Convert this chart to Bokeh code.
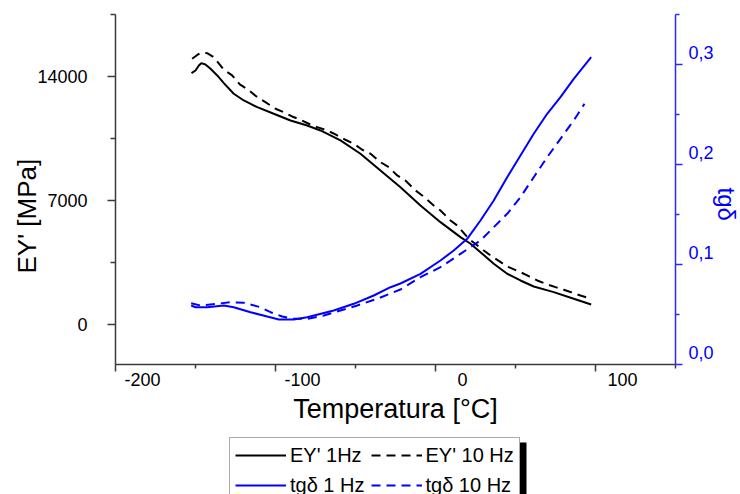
from bokeh.plotting import figure
from bokeh.layouts import column
from bokeh.models import (Range1d, LinearAxis, FixedTicker, Legend, LegendItem, Title,
                          BoxAnnotation, CustomLabelingPolicy)
from bokeh.core.properties import value
from bokeh.embed import file_html
from bokeh.resources import INLINE

# ---------------- data ----------------
temp_e1 = [-152.5, -150.0, -147.9, -146.4, -143.8, -140.6, -136.4, -132.3, -126.1,
           -119.8, -111.4, -101.1, -90.6, -80.2, -71.9, -59.4, -46.9, -34.4, -21.9,
           -9.4, 3.1, 15.6, 21.9, 28.1, 36.4, 44.8, 53.1, 61.4, 73.9, 86.4, 97.3]
e_1hz = [14188, 14340, 14623, 14753, 14680, 14437, 14059, 13624, 13025,
         12647, 12269, 11896, 11518, 11236, 10953, 10389, 9638, 8695, 7752,
         6719, 5776, 4929, 4556, 4082, 3427, 2863, 2484, 2145, 1824, 1451, 1129]

temp_e10 = [-152.1, -148.9, -146.9, -142.7, -138.6, -132.3, -127.1, -122.3, -117.7,
            -111.4, -106.3, -100.0, -94.8, -89.6, -84.4, -79.2, -73.9, -67.7, -62.5,
            -56.3, -51.1, -45.8, -40.6, -34.4, -29.2, -23.9, -18.8, -12.5, -8.3,
            -1.1, 3.1, 9.4, 13.6, 20.6, 30.2, 34.4, 41.7, 45.8, 53.1, 57.3, 63.6,
            68.8, 75.0, 80.2, 86.4, 90.6, 97.3]
e_10hz = [15001, 15216, 15329, 15318, 15092, 14381, 14059, 13551, 13297,
          12834, 12552, 12179, 11987, 11744, 11558, 11332, 11140, 10953, 10727,
          10428, 10202, 9864, 9638, 9164, 8881, 8413, 8130, 7566, 7283,
          6719, 6436, 5871, 5589, 4856, 4178, 3896, 3461, 3235, 2953, 2767, 2484,
          2298, 2106, 1959, 1767, 1637, 1451]

temp_t1 = [-152.7, -150.0, -142.7, -132.3, -126.1, -115.6, -105.2, -97.9, -88.6,
           -80.2, -63.6, -51.1, -38.6, -28.1, -21.9, -9.4, 3.1, 11.4, 19.8, 28.1,
           36.4, 44.8, 53.1, 61.4, 69.8, 78.1, 86.4, 97.3]
tg_1hz = [0.059, 0.0573, 0.0573, 0.059, 0.0573, 0.0523, 0.048, 0.045, 0.045,
          0.0473, 0.054, 0.0607, 0.069, 0.0773, 0.081, 0.0907, 0.104, 0.114, 0.1257,
          0.144, 0.164, 0.1873, 0.209, 0.2307, 0.2507, 0.2673, 0.2857, 0.3073]

temp_t10 = [-152.7, -146.9, -136.4, -128.1, -119.8, -109.4, -103.1, -95.8, -88.6,
            -80.2, -69.8, -59.4, -48.9, -36.4, -26.1, -21.9, -9.4, 3.1, 15.6, 28.1,
            36.4, 44.8, 53.1, 61.4, 69.8, 78.1, 86.4, 93.1]
tg_10hz = [0.0613, 0.059, 0.0607, 0.0623, 0.0617, 0.0573, 0.0523, 0.048, 0.0457,
           0.0457, 0.049, 0.054, 0.059, 0.0657, 0.0723, 0.075, 0.0873, 0.0973, 0.1107,
           0.124, 0.1373, 0.1507, 0.1673, 0.1873, 0.2073, 0.2257, 0.244, 0.2607]

x_ticks = [-200, -100, 0, 100]
x_tick_labels = ["-200", "-100", "0", "100"]
x_minor = [-150, -50, 50, 150]
e_ticks = [0, 7000, 14000]
e_minor = [3500, 10500, 17500]
tg_ticks = [0, 0.1, 0.2, 0.3]
tg_minor = [0.05, 0.15, 0.25, 0.35]
tg_tick_labels = ["0,0", "0,1", "0,2", "0,3"]
legend_labels = ["EY' 1Hz", "EY' 10 Hz", "tgδ 1 Hz", "tgδ 10 Hz"]
x_title = "Temperatura [°C]"
e_title = "EY' [MPa]"
tg_title = "tgδ"

# ---------------- style ----------------
FONT = "Liberation Sans"
AX = "#3a3a3a"
BLUE = "#0000ff"
BLUE_AX = "#2a2aff"
DASH = "9 6"

X0, X1 = -200, 150
E0, E1 = -2260, 17500
T0, T1 = 0.0, 0.35
LEFT, RIGHT, TOP = 115, 65, 14
W = 740
H_MAIN, H_LEG = 430, 64
FW, FH = W - LEFT - RIGHT, 350
BOTTOM = H_MAIN - TOP - FH

p = figure(width=W, height=H_MAIN, x_range=Range1d(X0, X1), y_range=Range1d(E0, E1),
           output_backend="svg", toolbar_location=None,
           min_border_left=LEFT, min_border_right=RIGHT,
           min_border_top=TOP, min_border_bottom=BOTTOM)
p.outline_line_color = None
p.xgrid.visible = False
p.ygrid.visible = False
p.background_fill_color = "white"
p.border_fill_color = "white"

lab_shift_px = 27
p.extra_x_ranges = {"xlab": Range1d(X0 - lab_shift_px * (X1 - X0) / FW,
                                    X1 - lab_shift_px * (X1 - X0) / FW)}
tg_shift_px = 12
p.extra_y_ranges = {"tg": Range1d(T0, T1),
                    "tglab": Range1d(T0 - tg_shift_px * (T1 - T0) / FH,
                                     T1 - tg_shift_px * (T1 - T0) / FH)}


def tick_style(ax, color, major_out, minor_out):
    ax.axis_line_color = color
    ax.axis_line_width = 1.5
    ax.major_tick_line_color = color
    ax.minor_tick_line_color = color
    ax.major_tick_line_width = 1.5
    ax.minor_tick_line_width = 1.5
    ax.major_tick_in = 0
    ax.major_tick_out = major_out
    ax.minor_tick_in = 0
    ax.minor_tick_out = minor_out


def labels_only(ax, color, standoff):
    ax.axis_line_color = None
    ax.major_tick_line_color = None
    ax.minor_tick_line_color = None
    ax.major_label_text_font = FONT
    ax.major_label_text_font_size = "18px"
    ax.major_label_text_color = color
    ax.major_label_standoff = standoff


def no_labels(ax):
    ax.major_label_text_font_size = "0px"
    ax.major_label_standoff = 0
    ax.major_label_policy = CustomLabelingPolicy(
        code="for (const i of indices) indices.unset(i)")


# bottom axis: ticks only
xa = p.xaxis[0]
xa.ticker = FixedTicker(ticks=x_ticks, minor_ticks=x_minor)
tick_style(xa, AX, 7, 4)
no_labels(xa)

# bottom axis: labels only (offset to the right like the original)
xl = LinearAxis(x_range_name="xlab", ticker=FixedTicker(ticks=x_ticks, minor_ticks=[]))
labels_only(xl, "black", -5)
xl.major_label_overrides = dict(zip(x_ticks, x_tick_labels))
p.add_layout(xl, "below")

# left axis
ya = p.yaxis[0]
ya.ticker = FixedTicker(ticks=e_ticks, minor_ticks=e_minor)
tick_style(ya, AX, 8, 5)
ya.major_label_text_font = FONT
ya.major_label_text_font_size = "18px"
ya.major_label_text_color = "black"
ya.major_label_standoff = 20

# right axis: ticks only
ra = LinearAxis(y_range_name="tg", ticker=FixedTicker(ticks=tg_ticks, minor_ticks=tg_minor))
tick_style(ra, BLUE_AX, 7, 4)
no_labels(ra)
p.add_layout(ra, "right")

# right axis: labels only (shifted up like the original)
rl = LinearAxis(y_range_name="tglab", ticker=FixedTicker(ticks=tg_ticks, minor_ticks=[]))
labels_only(rl, BLUE, 0)
rl.major_label_overrides = dict(zip(tg_ticks, tg_tick_labels))
p.add_layout(rl, "right")

# curves
r1 = p.line(temp_e1, e_1hz, line_color="black", line_width=2)
r2 = p.line(temp_e10, e_10hz, line_color="black", line_width=2, line_dash=DASH)
r3 = p.line(temp_t1, tg_1hz, line_color=BLUE, line_width=2, y_range_name="tg")
r4 = p.line(temp_t10, tg_10hz, line_color=BLUE, line_width=2, line_dash=DASH,
            y_range_name="tg")

# axis titles (side-panel titles)
p.add_layout(Title(text=e_title, align="left", offset=91, standoff=-14,
                   text_font=FONT, text_font_size="26px", text_font_style="normal",
                   text_color="black"), "left")
p.add_layout(Title(text=tg_title, align="left", offset=173, standoff=-8,
                   text_font=FONT, text_font_size="24px", text_font_style="normal",
                   text_color=BLUE), "right")
p.add_layout(Title(text=x_title, align="center", standoff=6,
                   text_font=FONT, text_font_size="27px", text_font_style="normal",
                   text_color="black"), "below")

# ---------------- legend strip under the chart (frame aligned with the chart) ----
q = figure(width=W, height=H_LEG, x_range=Range1d(LEFT, W - RIGHT),
           y_range=Range1d(0, H_LEG),
           output_backend="svg", toolbar_location=None, min_border=0)
q.axis.visible = False
q.xgrid.visible = False
q.ygrid.visible = False
q.outline_line_color = None
q.background_fill_color = "white"
q.border_fill_color = "white"

# legend proxies (same series; they fall outside this strip's ranges)
k1 = q.line(temp_e1, e_1hz, line_color="black", line_width=2)
k2 = q.line(temp_e10, e_10hz, line_color="black", line_width=2, line_dash=DASH)
k3 = q.line(temp_t1, tg_1hz, line_color=BLUE, line_width=2)
k4 = q.line(temp_t10, tg_10hz, line_color=BLUE, line_width=2, line_dash=DASH)

# drop shadow of the legend box (strip coordinates are canvas pixels)
q.add_layout(BoxAnnotation(left=240, right=526, top=52, bottom=-20,
                           fill_color="black", fill_alpha=1, line_color=None))

legend = Legend(items=[LegendItem(label=value(legend_labels[0]), renderers=[k1]),
                       LegendItem(label=value(legend_labels[1]), renderers=[k2]),
                       LegendItem(label=value(legend_labels[2]), renderers=[k3]),
                       LegendItem(label=value(legend_labels[3]), renderers=[k4])],
                orientation="horizontal", ncols=2, location=(229 - LEFT, -9))
legend.border_line_color = "#555555"
legend.border_line_width = 1
legend.background_fill_color = "white"
legend.background_fill_alpha = 1
legend.label_text_font = FONT
legend.label_text_font_size = "20px"
legend.label_text_color = "black"
legend.glyph_width = 51
legend.glyph_height = 24
legend.label_height = 24
legend.label_standoff = 4
legend.spacing = 6
legend.padding = 5
legend.margin = 0
q.add_layout(legend, "center")

layout = column(p, q, spacing=0)
open("out.html", "w").write(file_html(layout, INLINE))
